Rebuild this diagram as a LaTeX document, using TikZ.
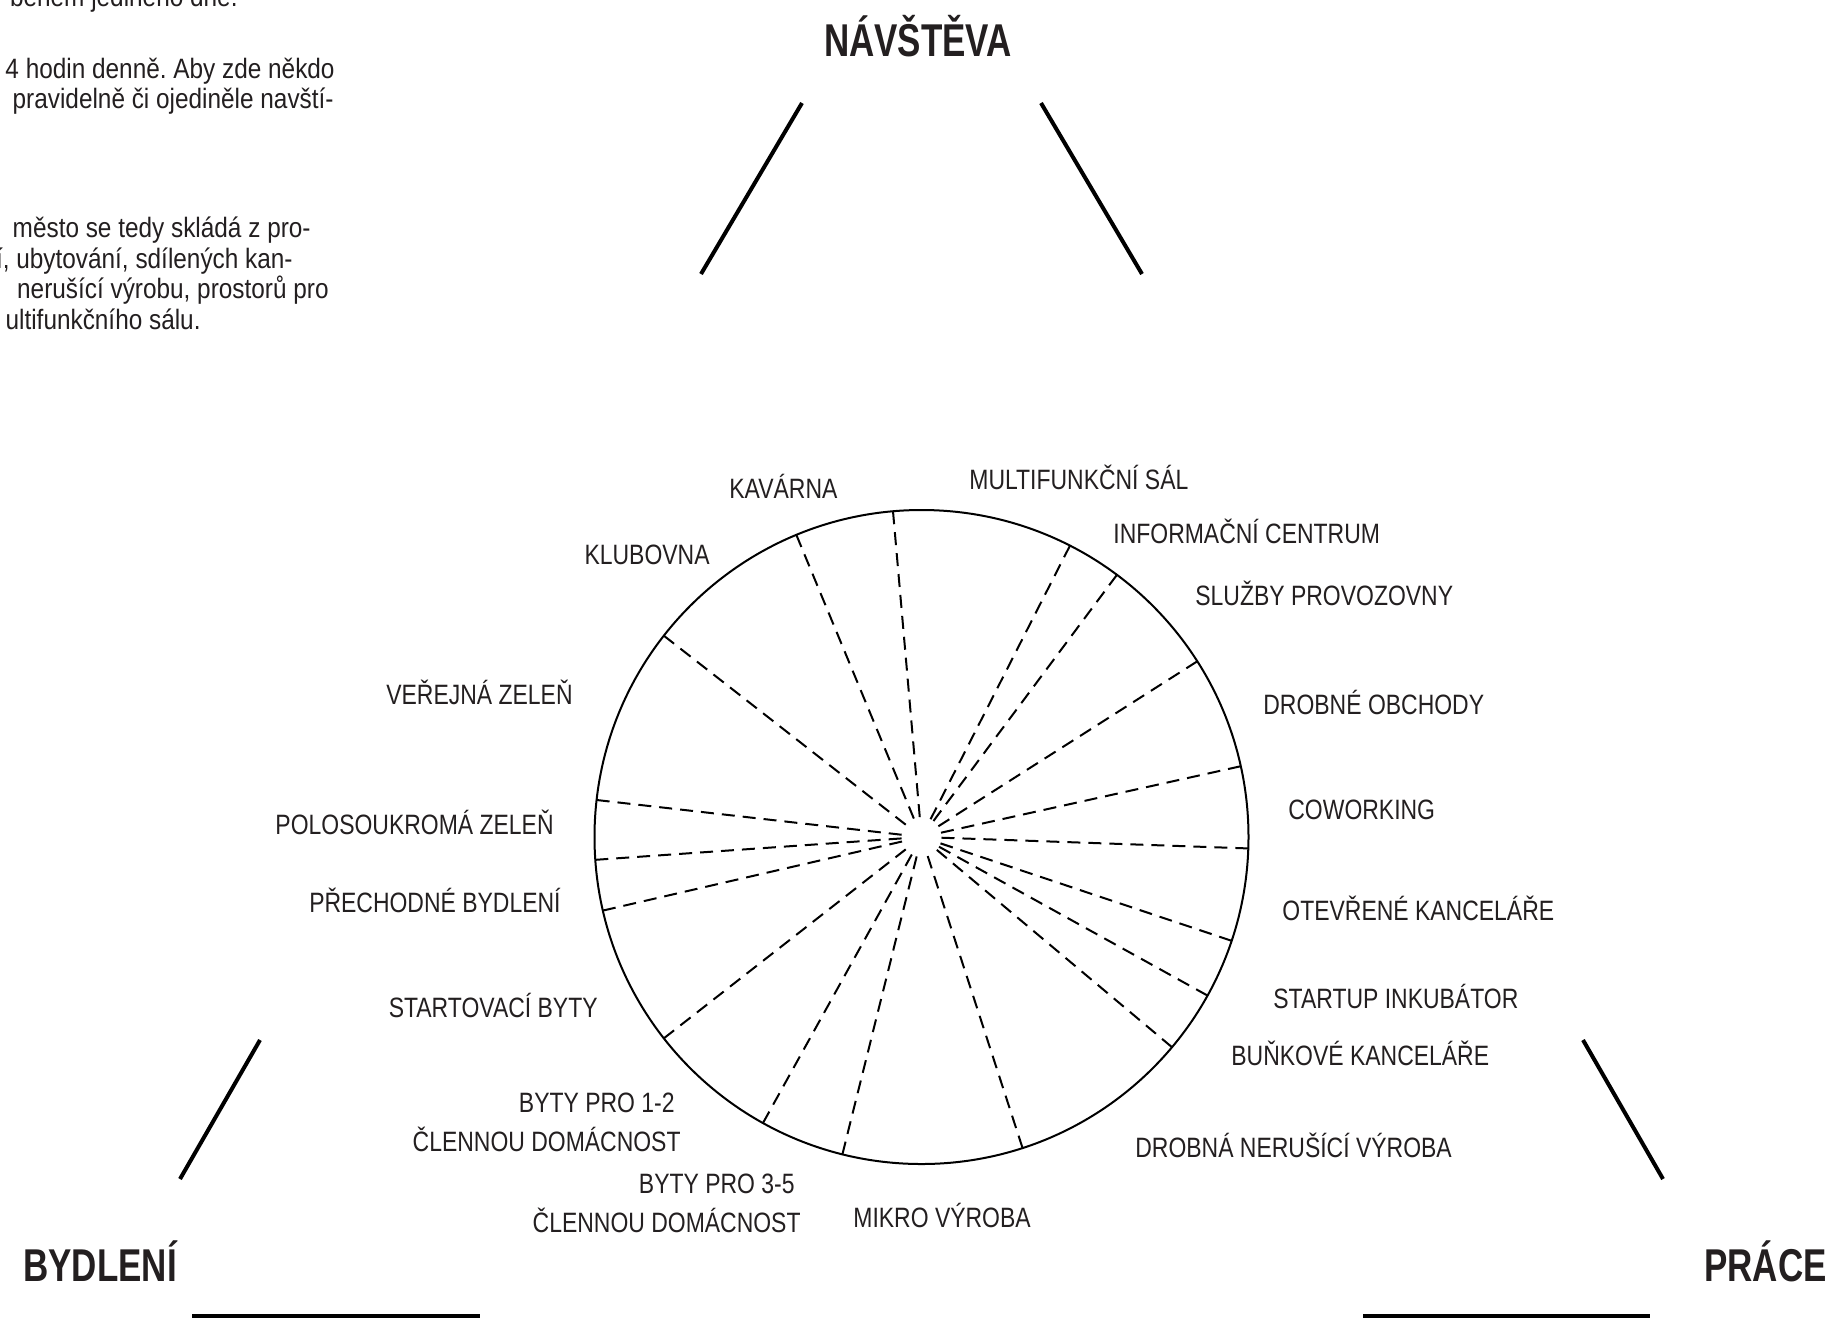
\documentclass[tikz,border=0pt]{standalone}
\usepackage{fontspec}
\setmainfont{Liberation Sans}
\newfontfamily\lblface{Liberation Sans}[FakeStretch=0.82]
\newfontfamily\bodface{Liberation Sans}[FakeStretch=0.87]
\newfontfamily\headface{Liberation Sans Bold}[FakeStretch=0.76]
\definecolor{ink}{HTML}{231F20}
\begin{document}
\frenchspacing
\begin{tikzpicture}[x=0.5pt,y=-0.5pt,
  lbl/.style={font=\lblface\fontsize{14pt}{19.25pt}\selectfont, inner sep=0pt, text=ink},
  bodyline/.style={font=\bodface\fontsize{14pt}{16pt}\selectfont, inner sep=0pt, text=ink, anchor=base east},
  heading/.style={font=\headface\fontsize{23pt}{26pt}\selectfont, inner sep=0pt, text=ink},
  bar/.style={line width=2pt, black},
  rim/.style={line width=1pt, black},
  spoke/.style={line width=1pt, black, dash pattern=on 6.5pt off 4pt}]
\useasboundingbox (0,0) rectangle (1836,1319);
\clip (0,0) rectangle (1836,1319);
\fill[white] (0,0) rectangle (1836,1319);

% body text (clipped at the left edge)
\node[bodyline] (t1) at (238,6) {během jediného dne.};
\node[bodyline] (t2) at (335,78) {4 hodin denně. Aby zde někdo};
\node[bodyline] (t3) at (334,108) {pravidelně či ojediněle navští-};
\node[bodyline] (t4) at (311,237) {město se tedy skládá z pro-};
\node[bodyline] (t5) at (293,268) {í, ubytování, sdílených kan-};
\node[bodyline] (t6) at (329,298) {nerušící výrobu, prostorů pro};
\node[bodyline] (t7) at (201,329) {ultifunkčního sálu.};

% headings
\node[heading, anchor=base] (navsteva) at (918,56) {NÁVŠTĚVA};
\node[heading, anchor=base west] (bydleni) at (23,1281) {BYDLENÍ};
\node[heading, anchor=base east] (prace) at (1827,1281) {PRÁCE};

% triangle fragments
\coordinate (tl1) at (802,103); \coordinate (tl2) at (701,274);
\coordinate (tr1) at (1041,103); \coordinate (tr2) at (1142,274);
\coordinate (bl1) at (260,1040); \coordinate (bl2) at (180,1179);
\coordinate (br1) at (1583,1040); \coordinate (br2) at (1663,1179);
\coordinate (hl1) at (192,1316); \coordinate (hl2) at (480,1316);
\coordinate (hr1) at (1363,1316); \coordinate (hr2) at (1650,1316);
\draw[bar] (tl1) -- (tl2);
\draw[bar] (tr1) -- (tr2);
\draw[bar] (bl1) -- (bl2);
\draw[bar] (br1) -- (br2);
\draw[bar] (hl1) -- (hl2);
\draw[bar] (hr1) -- (hr2);

% wheel
\coordinate (o) at (921.5,837);
\foreach \a in {95,112.5,142,173.5,184,193,218,241,256,288,320,331,341.5,358,12.5,32.5,53.3,63}
  \draw[spoke] ([shift={(-\a:327)}]o) -- ([shift={(-\a:16)}]o);
\draw[rim] (o) circle[radius=327];

% labels
\node[lbl, anchor=base west] (kavarna) at (729,498) {KAVÁRNA};
\node[lbl, anchor=base west] (sal) at (969,489) {MULTIFUNKČNÍ SÁL};
\node[lbl, anchor=base west] (info) at (1113,543) {INFORMAČNÍ CENTRUM};
\node[lbl, anchor=base west] (sluzby) at (1195,605) {SLUŽBY PROVOZOVNY};
\node[lbl, anchor=base west] (obchody) at (1263,714) {DROBNÉ OBCHODY};
\node[lbl, anchor=base west] (cowork) at (1288,819) {COWORKING};
\node[lbl, anchor=base west] (otevrene) at (1282,920) {OTEVŘENÉ KANCELÁŘE};
\node[lbl, anchor=base west] (startup) at (1273,1008) {STARTUP INKUBÁTOR};
\node[lbl, anchor=base west] (bunkove) at (1231,1065) {BUŇKOVÉ KANCELÁŘE};
\node[lbl, anchor=base west] (drobna) at (1135,1157) {DROBNÁ NERUŠÍCÍ VÝROBA};
\node[lbl, anchor=base west] (mikro) at (853,1227) {MIKRO VÝROBA};
\node[lbl, anchor=base east, align=right] (byty35) at (801,1232) {BYTY PRO 3-5\hspace*{3pt}\\ČLENNOU DOMÁCNOST};
\node[lbl, anchor=base east, align=right] (byty12) at (681,1151) {BYTY PRO 1-2\hspace*{3pt}\\ČLENNOU DOMÁCNOST};
\node[lbl, anchor=base east] (startovaci) at (598,1017) {STARTOVACÍ BYTY};
\node[lbl, anchor=base east] (prechodne) at (561,912) {PŘECHODNÉ BYDLENÍ};
\node[lbl, anchor=base east] (polo) at (554,834) {POLOSOUKROMÁ ZELEŇ};
\node[lbl, anchor=base east] (verejna) at (573,704) {VEŘEJNÁ ZELEŇ};
\node[lbl, anchor=base east] (klubovna) at (710,564) {KLUBOVNA};
\end{tikzpicture}
\end{document}
